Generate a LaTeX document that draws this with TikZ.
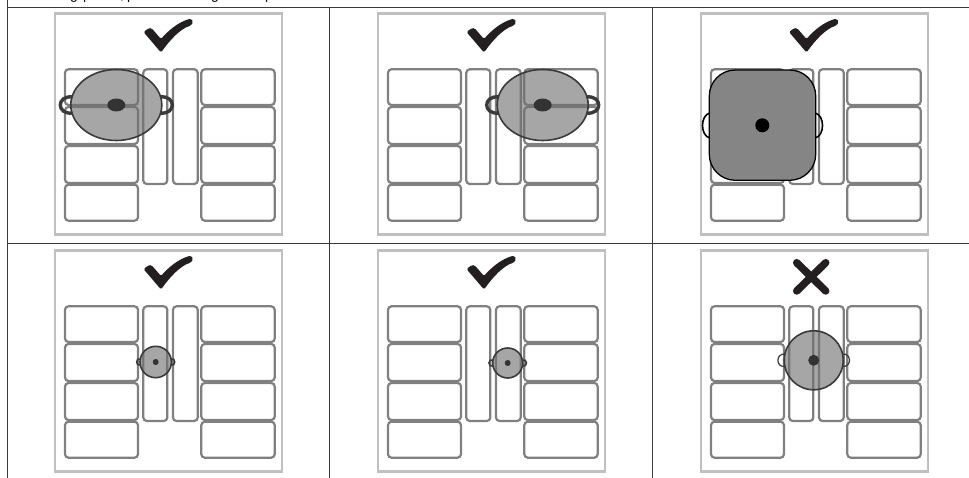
\documentclass[tikz,border=0pt]{standalone}
\usepackage{fontspec}
\setmainfont{Liberation Sans}
\definecolor{markcol}{HTML}{231F20}
\definecolor{framecol}{HTML}{C0C0C0}
\definecolor{ringcol}{HTML}{808080}
\definecolor{edgecol}{HTML}{3A3A3A}

\tikzset{
  gridline/.style={draw=edgecol,line width=1pt},
  frameline/.style={draw=framecol,line width=2.8pt},
  ringbox/.style={draw=ringcol,line width=2.2pt,rounded corners=3.5pt},
  potbody/.style={draw=edgecol,line width=1.6pt,fill=black!56,fill opacity=0.62},
  pothandle/.style={draw=edgecol,line width=#1},
  potknob/.style={fill=black!80},
  lidbody/.style={draw=black,line width=1.3pt,fill=black!48,rounded corners=26pt}
}

% cooktop: frame, four rings left, two bars, four rings right
\newcommand{\cooktop}[2]{%
  \begin{scope}[shift={(#1,#2)}]
    \draw[frameline] (55,13.3) rectangle (282,234.3);
    \foreach \ytop/\ybot in {69.3/105,107/144,146/183,184.7/220.7} {
      \draw[ringbox] (65,\ytop) rectangle (138,\ybot);
      \draw[ringbox] (201.3,\ytop) rectangle (274.7,\ybot);
    }
    \draw[ringbox] (143.3,69.3) rectangle (167.3,184);
    \draw[ringbox] (173,69.3) rectangle (197.7,184);
  \end{scope}
}

\newcommand{\okmark}[2]{%
  \fill[markcol,shift={(#1,#2)},rounded corners=1.5pt]
    (143.5,32) -- (149,28) -- (151.7,28.3) -- (161,39)
    .. controls (168,31) and (178,22) .. (191,18.6)
    -- (193.3,22) -- (191,25.5)
    .. controls (180,29) and (170,40) .. (161,52.5) -- cycle;
}

% #1,#2 centre, #3,#4 radii, #5,#6 knob, #7 handle reach, #8 handle half height, #9 handle width
\newcommand{\roundpot}[9]{%
  \foreach \s in {-1,1} {
    \draw[pothandle=#9] ({#1+\s*#3*0.96},{#2-#8})
      .. controls ({#1+\s*(#3*0.96+(#7-#3*0.96)*1.333)},{#2-#8-2})
      and ({#1+\s*(#3*0.96+(#7-#3*0.96)*1.333)},{#2+#8+2})
      .. ({#1+\s*#3*0.96},{#2+#8});
  }
  \draw[potbody] (#1,#2) ellipse[x radius=#3,y radius=#4];
  \fill[potknob] (#1,#2) ellipse[x radius=#5,y radius=#6];
}

\begin{document}
\begin{tikzpicture}[x=1pt,y=-1pt]
  \useasboundingbox (0,0) rectangle (969,478);

  % only the lower edge of the line above is left
  \begin{scope}
    \clip (0,0) rectangle (969,7);
    \foreach \glyph/\gx [count=\i] in {g/74,p/87,{,}/122,p/131,g/215,p/269} {
      \node[anchor=base,inner sep=0pt,font=\fontsize{14}{16}\selectfont] (cut\i) at (\gx,0) {\glyph};
    }
  \end{scope}

  \draw[gridline] (7.5,0) -- (7.5,478);
  \draw[gridline] (329.3,7.3) -- (329.3,478);
  \draw[gridline] (652.7,7.3) -- (652.7,478);
  \draw[gridline] (7.5,7.3) -- (969,7.3);
  \draw[gridline] (7.5,244) -- (969,244);

  \foreach \cx/\cy in {0/0,323/0,646/0,0/237,323/237,646/237} {
    \cooktop{\cx}{\cy}
  }

  \okmark{0}{0}
  \okmark{323}{0}
  \okmark{645.5}{0}
  \okmark{0}{237}
  \okmark{323}{237}

  % cross
  \draw[markcol,line width=7.5pt,line cap=round] (796.7,262.7) -- (825.7,291);
  \draw[markcol,line width=7.5pt,line cap=round] (825.7,262.7) -- (796.7,291);

  % top row
  \roundpot{116.3}{105}{45.5}{35.5}{9}{6.5}{56}{8}{3.4pt}
  \roundpot{542.7}{105}{45.5}{35.5}{9}{6.5}{56}{8}{3.4pt}

  \draw[pothandle=1.6pt,draw=black] (710,113)
    .. controls (700,115) and (700,136) .. (710,138);
  \draw[pothandle=1.6pt,draw=black] (815,113)
    .. controls (825,115) and (825,136) .. (815,138);
  \draw[lidbody] (709.3,70) rectangle (815.7,180.3);
  \fill[black] (762.3,125.3) circle[radius=7];

  % bottom row
  \roundpot{155.7}{362}{15.7}{15.7}{3}{3}{19}{3}{1.6pt}
  \roundpot{507.7}{363}{15}{15}{3}{3}{18.7}{3}{1.6pt}
  \roundpot{813.7}{360.3}{29.5}{29.5}{5.5}{5.5}{35.8}{6}{1.2pt}
\end{tikzpicture}
\end{document}
